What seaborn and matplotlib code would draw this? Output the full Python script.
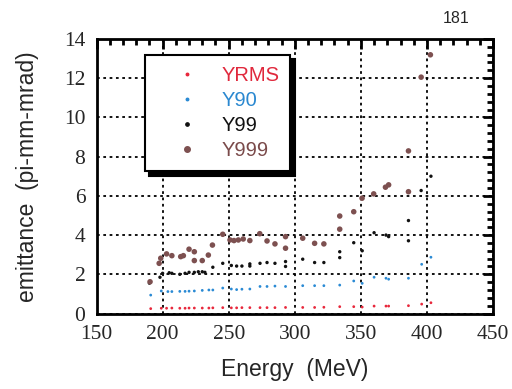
import matplotlib
matplotlib.use("Agg")
import matplotlib.pyplot as plt
import seaborn as sns
import pandas as pd
from matplotlib.ticker import MultipleLocator
from matplotlib.lines import Line2D

# ---- data ----
e_y999 = [190.5, 197.4, 198.6, 203, 207, 213.7, 215.7, 220, 224, 224, 230, 234.6, 237.7,
          245.5, 251, 254, 257.3, 261, 266, 273.5, 279, 285, 293, 293, 306, 315, 322,
          334, 334, 344.6, 350.9, 359.7, 368.6, 371, 386, 386, 395.6, 402.6]
v_y999 = [1.62, 2.56, 2.82, 3.04, 2.95, 2.9, 2.95, 3.28, 3.15, 2.7, 2.7, 2.98, 3.49,
          4.04, 3.75, 3.72, 3.75, 3.8, 3.72, 4.07, 3.7, 3.55, 3.92, 3.33, 3.84, 3.58, 3.55,
          4.3, 4.97, 5.19, 5.88, 6.1, 6.44, 6.56, 6.21, 8.29, 12.05, 13.19]

e_y99 = [190, 198, 200, 205, 207, 213, 217, 220, 224, 227, 230, 232, 238, 245.5, 252, 256,
         260, 266, 266, 273.7, 279, 285, 293, 293, 306, 315, 322, 334, 334, 344.6, 351,
         360, 369, 371, 386, 386, 395.6, 403]
v_y99 = [1.55, 1.85, 2.05, 2.08, 2.05, 2.0, 2.05, 2.1, 2.1, 2.13, 2.13, 2.1, 2.36, 2.56, 2.45, 2.42,
         2.42, 2.53, 2.42, 2.56, 2.6, 2.56, 2.65, 2.4, 2.77, 2.6, 2.6, 3.15, 2.85, 3.61, 3.2,
         4.12, 4.0, 3.92, 4.74, 3.71, 6.27, 7.0]

e_y90 = [191, 199, 204, 207, 213, 217, 220, 224, 230, 235, 238, 245.5, 252, 256, 260, 266,
         273.7, 279, 285, 293, 306, 315, 322, 334, 344.6, 351, 360, 369, 371, 386, 396, 403]
v_y90 = [0.94, 1.15, 1.12, 1.12, 1.13, 1.13, 1.14, 1.15, 1.18, 1.2, 1.2, 1.3, 1.25, 1.22, 1.24, 1.25,
         1.38, 1.38, 1.4, 1.38, 1.42, 1.42, 1.42, 1.45, 1.66, 1.54, 1.85, 1.8, 1.75, 1.8, 2.51, 2.87]

e_yrms = [191, 199, 203, 207, 213, 217, 220, 224, 230, 235, 238, 245.5, 252, 256, 260, 266,
          273.7, 279, 285, 293, 306, 315, 322, 334, 344.6, 351, 360, 369, 371, 386, 396, 403]
v_yrms = [0.25, 0.27, 0.27, 0.28, 0.27, 0.27, 0.28, 0.28, 0.28, 0.28, 0.29, 0.3, 0.29, 0.29, 0.3, 0.3,
          0.3, 0.3, 0.3, 0.31, 0.31, 0.31, 0.32, 0.35, 0.35, 0.33, 0.38, 0.38, 0.38, 0.4, 0.48, 0.55]

series_names = ["YRMS", "Y90", "Y99", "Y999"]
series_colors = ["#e8283c", "#2a8ad4", "#111111", "#7d5050"]
text_colors = ["#e0283c", "#2a88d0", "#111111", "#7a4a4a"]
x_ticks = [150, 200, 250, 300, 350, 400, 450]
y_ticks = [0, 2, 4, 6, 8, 10, 12, 14]

sns.set_style("white")
plt.rcParams["font.family"] = ["Liberation Sans", "DejaVu Sans"]

fig = plt.figure(figsize=(5.12, 3.89), dpi=100)
ax = fig.add_axes([0.1885, 0.194, 0.7745, 0.706])

data = [(e_yrms, v_yrms), (e_y90, v_y90), (e_y99, v_y99), (e_y999, v_y999)]
sizes = [4, 4, 6, 16]
for (e, v), c, s, n in zip(data, series_colors, sizes, series_names):
    df = pd.DataFrame({"Energy": e, "emittance": v})
    sns.scatterplot(data=df, x="Energy", y="emittance", ax=ax, color=c, s=s,
                    edgecolor="none", legend=False, zorder=3)

ax.set_xlim(150, 450)
ax.set_ylim(0, 14)
ax.set_xticks(x_ticks)
ax.set_yticks(y_ticks)
ax.set_xticklabels([str(t) for t in x_ticks])
ax.set_yticklabels([str(t) for t in y_ticks])
for lab in ax.get_xticklabels() + ax.get_yticklabels():
    lab.set_fontfamily(["Liberation Serif", "DejaVu Serif"])
    lab.set_fontsize(15.5)
ax.xaxis.set_minor_locator(MultipleLocator(10))
ax.yaxis.set_minor_locator(MultipleLocator(0.4))
ax.tick_params(which="both", direction="in", top=True, right=True, color="black")
ax.tick_params(which="major", length=7, width=2, pad=8)
ax.tick_params(which="minor", length=4, width=2)

ax.grid(True, which="major", linestyle=(0, (1.5, 2.0)), color="black", linewidth=1.3)
for sp in ax.spines.values():
    sp.set_color("black")
    sp.set_linewidth(2)

ax.set_xlabel("Energy  (MeV)", fontsize=16.5, labelpad=10)
ax.set_ylabel("emittance  (pi-mm-mrad)", fontsize=16.5, labelpad=18)

handles = [Line2D([0], [0], marker="o", linestyle="none", color=c, markersize=ms)
           for c, ms in zip(series_colors, [1.8, 1.8, 2.4, 4.0])]
leg = ax.legend(handles, series_names, loc="upper left", bbox_to_anchor=(0.122, 0.941),
                frameon=True, fancybox=False, fontsize=14.5, labelcolor=text_colors,
                handletextpad=0.15, handlelength=3.1, borderpad=0.55, labelspacing=0.3,
                borderaxespad=0, shadow={"ox": 3, "oy": -3, "color": "black", "alpha": 1.0})
leg.get_frame().set_edgecolor("black")
leg.get_frame().set_linewidth(1.5)
leg.get_frame().set_facecolor("white")
leg.set_zorder(5)

fig.text(0.89, 0.952, "181", fontsize=11.5, ha="center", va="center")

fig.savefig("out.png", dpi=100)
